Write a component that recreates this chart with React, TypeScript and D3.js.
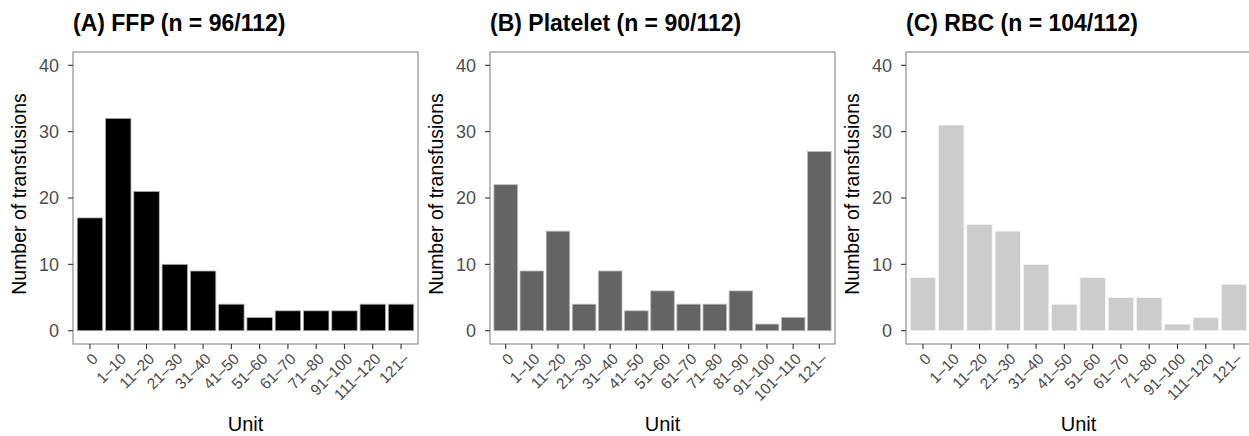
import React from 'react';
import * as d3 from 'd3';

const ffpCats = ['0', '1–10', '11–20', '21–30', '31–40', '41–50', '51–60', '61–70', '71–80', '91–100', '111–120', '121–'];
const ffpVals = [17, 32, 21, 10, 9, 4, 2, 3, 3, 3, 4, 4];

const pltCats = ['0', '1–10', '11–20', '21–30', '31–40', '41–50', '51–60', '61–70', '71–80', '81–90', '91–100', '101–110', '121–'];
const pltVals = [22, 9, 15, 4, 9, 3, 6, 4, 4, 6, 1, 2, 27];

const rbcCats = ['0', '1–10', '11–20', '21–30', '31–40', '41–50', '51–60', '61–70', '71–80', '91–100', '111–120', '121–'];
const rbcVals = [8, 31, 16, 15, 10, 4, 8, 5, 5, 1, 2, 7];

const yTicks = [0, 10, 20, 30, 40];

const panels = [
  { title: '(A) FFP (n = 96/112)', cats: ffpCats, vals: ffpVals, fill: '#000000', stroke: '#b0b0b0', left: 73, right: 418 },
  { title: '(B) Platelet (n = 90/112)', cats: pltCats, vals: pltVals, fill: '#646464', stroke: '#b8b8b8', left: 490, right: 835 },
  { title: '(C) RBC (n = 104/112)', cats: rbcCats, vals: rbcVals, fill: '#cccccc', stroke: '#f4f4f4', left: 906, right: 1251 },
];

const top = 52;
const bottom = 344;
const font = 'Liberation Sans, Arial, sans-serif';

const Panel = ({ p }) => {
  const x = d3.scalePoint().domain(p.cats).range([p.left, p.right]).padding(0.6);
  const y = d3.scaleLinear().domain([-2, 42]).range([bottom, top]);
  const bw = x.step() * 0.9;
  const mid = (p.left + p.right) / 2;

  return (
    <g>
      <text x={p.left} y={31} fontSize={23} fontWeight="bold" fill="#000">{p.title}</text>

      {p.cats.map((c, i) => (
        <rect key={c}
          x={x(c) - bw / 2} y={y(p.vals[i])}
          width={bw} height={y(0) - y(p.vals[i])}
          fill={p.fill} stroke={p.stroke} strokeWidth={0.8} />
      ))}

      <rect x={p.left} y={top} width={p.right - p.left} height={bottom - top}
        fill="none" stroke="#858585" strokeWidth={1.1} />

      {yTicks.map(t => (
        <g key={t}>
          <line x1={p.left - 5} x2={p.left} y1={y(t)} y2={y(t)} stroke="#333" strokeWidth={1.1} />
          <text x={p.left - 14} y={y(t)} dy="0.36em" textAnchor="end" fontSize={18} fill="#4d4d4d">{t}</text>
        </g>
      ))}

      {p.cats.map(c => (
        <g key={c}>
          <line x1={x(c)} x2={x(c)} y1={bottom} y2={bottom + 5} stroke="#333" strokeWidth={1.1} />
          <text transform={`translate(${x(c) + 5},${bottom + 12}) rotate(-45)`}
            textAnchor="end" dy="0.35em" fontSize={15.5} fill="#4d4d4d">{c}</text>
        </g>
      ))}

      <text x={mid} y={431} textAnchor="middle" fontSize={20} fill="#000">Unit</text>
      <text transform={`translate(${p.left - 47},${(top + bottom) / 2 - 4}) rotate(-90)`}
        textAnchor="middle" fontSize={19.5} fill="#000">Number of transfusions</text>
    </g>
  );
};

export default function App() {
  return (
    <svg width={1249} height={436} style={{ position: 'absolute', left: 0, top: 0, background: '#fff' }}
      fontFamily={font}>
      <rect width={1249} height={436} fill="#fff" />
      {panels.map(p => <Panel key={p.title} p={p} />)}
    </svg>
  );
}
